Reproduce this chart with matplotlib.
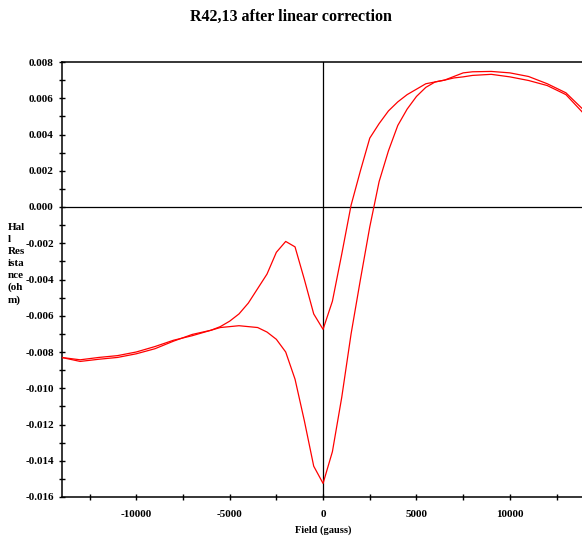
import matplotlib
matplotlib.use("Agg")
import matplotlib.pyplot as plt
from matplotlib.ticker import MultipleLocator

plt.rcParams['axes.unicode_minus'] = False
plt.rcParams['font.family'] = ['Liberation Serif', 'DejaVu Serif']

field = [-14000, -13000, -12000, -11000, -10000, -9000, -8000, -7000, -6000, -5500,
         -5000, -4500, -4000, -3500, -3000, -2500, -2000, -1500, -1000, -500,
         0, 500, 1000, 1500, 2000, 2500, 3000, 3500, 4000, 4500,
         5000, 5500, 6000, 6500, 7000, 7500, 8000, 9000, 10000, 11000,
         12000, 13000, 14000]

r_branch1 = [-0.0083, -0.00852, -0.0084, -0.0083, -0.0081, -0.00782, -0.0074, -0.00703, -0.0068, -0.0066,
             -0.0063, -0.0059, -0.0053, -0.0045, -0.0037, -0.0025, -0.0019, -0.0022, -0.0040, -0.0059,
             -0.00675, -0.0052, -0.0026, 0.0001, 0.0020, 0.0038, 0.0046, 0.0053, 0.0058, 0.0062,
             0.0065, 0.0068, 0.0069, 0.00700, 0.00712, 0.00718, 0.00726, 0.00732, 0.00718, 0.00698,
             0.0067, 0.0062, 0.0051]

r_branch2 = [-0.0083, -0.00843, -0.0083, -0.0082, -0.0080, -0.0077, -0.00735, -0.0071, -0.0068, -0.00665,
             -0.0066, -0.00655, -0.0066, -0.00665, -0.0069, -0.0073, -0.0080, -0.0095, -0.0118, -0.0143,
             -0.01525, -0.0135, -0.0105, -0.0070, -0.0040, -0.0011, 0.0014, 0.0031, 0.0045, 0.0054,
             0.0061, 0.0066, 0.0069, 0.0070, 0.0072, 0.0074, 0.00746, 0.00748, 0.0074, 0.0072,
             0.0068, 0.0063, 0.0053]

xticks = [-10000, -5000, 0, 5000, 10000]
xticklabels = ['-10000', '-5000', '0', '5000', '10000']
yticks = [-0.016, -0.014, -0.012, -0.010, -0.008, -0.006, -0.004, -0.002, 0.000, 0.002, 0.004, 0.006, 0.008]
yticklabels = ['-0.016', '-0.014', '-0.012', '-0.010', '-0.008', '-0.006', '-0.004', '-0.002',
               '0.000', '0.002', '0.004', '0.006', '0.008']

W, H = 582, 539
fig = plt.figure(figsize=(W / 100, H / 100), dpi=100)
ax = fig.add_axes([61.5 / W, (H - 497) / H, (W - 61.5) / W, (497 - 62) / H])

ax.plot(field, r_branch1, color='#ff0000', lw=0.9, zorder=3)
ax.plot(field, r_branch2, color='#ff0000', lw=0.9, zorder=3)

ax.axhline(0, color='black', lw=0.9, zorder=2)
ax.axvline(0, color='black', lw=0.9, zorder=2)

ax.set_xlim(-14000, 13860)
ax.set_ylim(-0.016, 0.008)

ax.set_xticks(xticks)
ax.set_xticklabels(xticklabels)
ax.set_yticks(yticks)
ax.set_yticklabels(yticklabels)
ax.xaxis.set_minor_locator(MultipleLocator(2500))
ax.yaxis.set_minor_locator(MultipleLocator(0.001))

ax.tick_params(axis='both', which='major', direction='inout', length=5, width=1,
               labelsize=8)
ax.tick_params(axis='both', which='minor', direction='inout', length=4, width=1)
ax.tick_params(axis='x', which='major', pad=7)
ax.tick_params(axis='y', which='major', pad=3)
for lab in ax.get_xticklabels() + ax.get_yticklabels():
    lab.set_fontweight('bold')

for s in ['left', 'bottom', 'top']:
    ax.spines[s].set_linewidth(1.1)
    ax.spines[s].set_color('black')
ax.spines['right'].set_visible(False)

fig.text(291 / W, 1 - 17 / H, 'R42,13 after linear correction', ha='center', va='center',
         fontsize=11.5, fontweight='bold')
fig.text(323 / W, 1 - 530 / H, 'Field (gauss)', ha='center', va='center',
         fontsize=7.5, fontweight='bold')
fig.text(8 / W, 1 - 223 / H, 'Hal\nl\nRes\nista\nnce\n(oh\nm)', ha='left', va='top',
         fontsize=8, fontweight='bold', linespacing=1.42)

fig.savefig('out.png', dpi=100)
